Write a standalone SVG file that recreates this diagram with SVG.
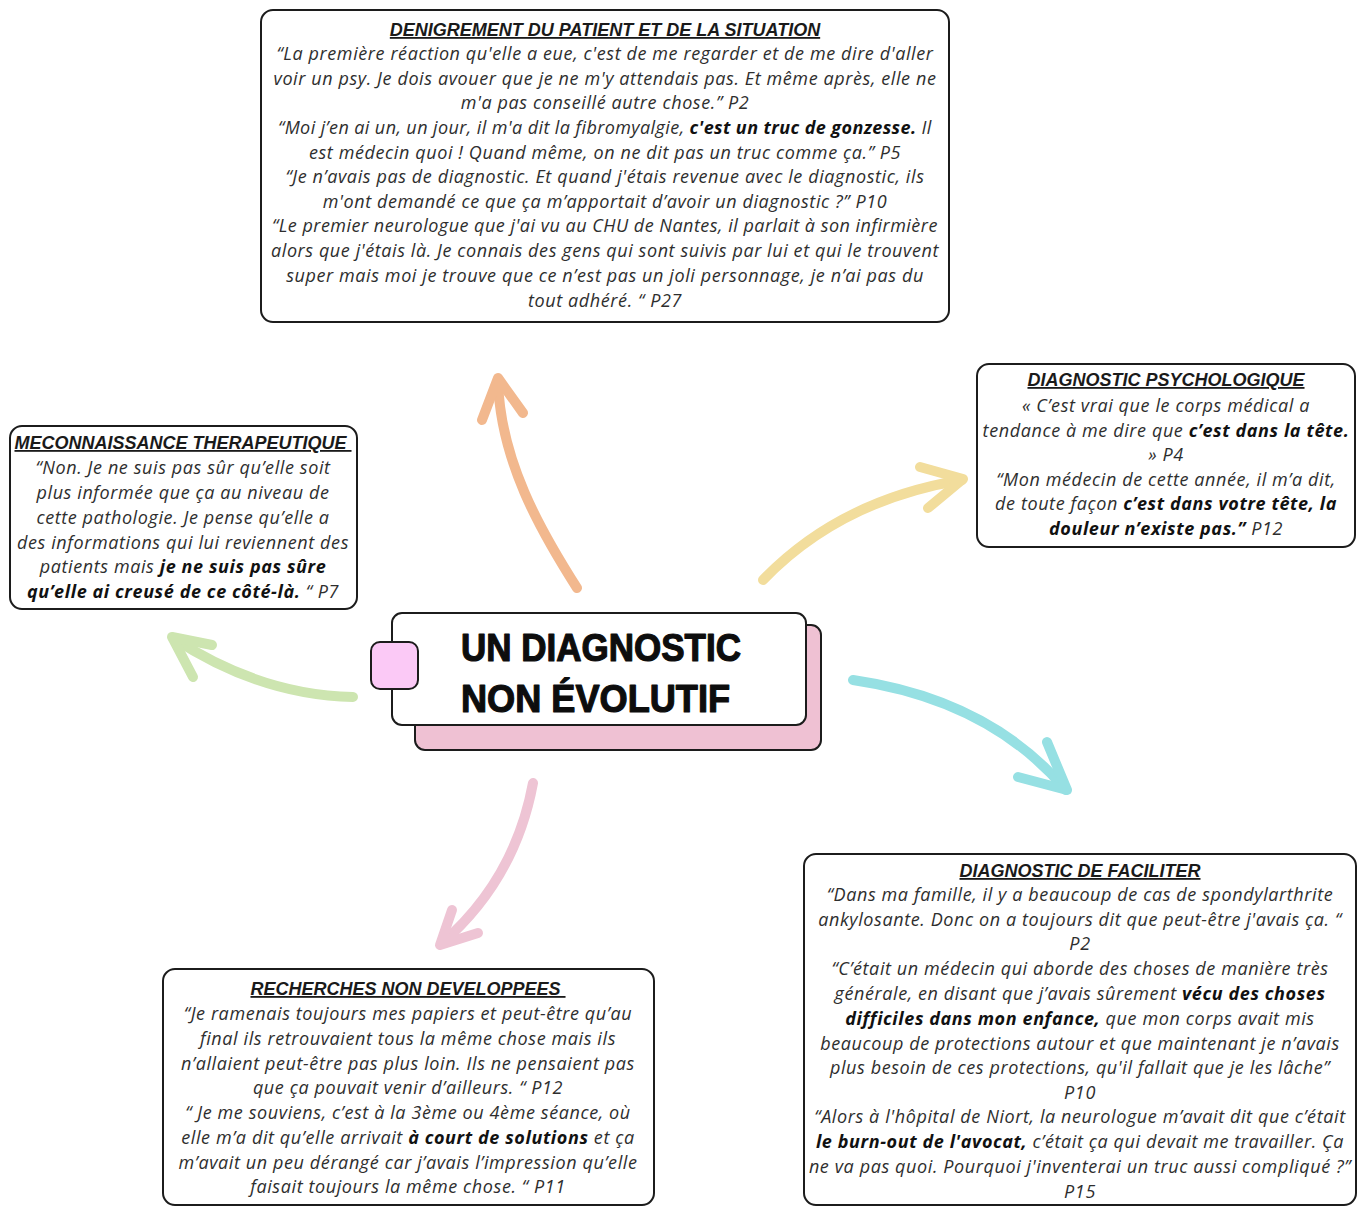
<svg xmlns="http://www.w3.org/2000/svg" width="1361" height="1206" viewBox="0 0 1361 1206">
  <style>
    .box { fill: #ffffff; stroke: #1c1c1c; stroke-width: 2; }
    .q { font-family: "Open Sans", "Liberation Sans", sans-serif; font-style: italic; font-size: 18px; letter-spacing: 0.6px; fill: #2e2e2e; text-anchor: middle; }
    .b { font-weight: bold; fill: #111111; }
    .t { font-family: "Liberation Sans", Arial, sans-serif; font-weight: bold; font-style: italic; font-size: 18px; fill: #1a1a1a; text-anchor: middle; text-decoration: underline; }
    .arrow { fill: none; stroke-width: 10; stroke-linecap: round; stroke-linejoin: round; }
    .head { font-family: "Liberation Sans", Arial, sans-serif; font-weight: bold; font-size: 38px; fill: #0d0d0d; stroke: #0d0d0d; stroke-width: 1.2; stroke-linejoin: round; }
  </style>

  <!-- connectors -->
  <g id="connectors">
    <path class="arrow" stroke="#f2b88e" d="M577,588 C540,530 500,460 498,380"/>
    <path class="arrow" stroke="#f2b88e" d="M482,420 L498,378 L523,413"/>
    <path class="arrow" stroke="#f2dd9c" d="M763,580 Q840,500 962,480"/>
    <path class="arrow" stroke="#f2dd9c" d="M920,467 L963,479 L928,508"/>
    <path class="arrow" stroke="#96e0e3" d="M853,680 Q990,700 1066,790"/>
    <path class="arrow" stroke="#96e0e3" d="M1047,742 L1067,790 L1018,777"/>
    <path class="arrow" stroke="#cde5b0" d="M353,697 Q260,695 173,638"/>
    <path class="arrow" stroke="#cde5b0" d="M212,645 L172,637 L193,677"/>
    <path class="arrow" stroke="#eec4d4" d="M533,783 Q515,880 441,944"/>
    <path class="arrow" stroke="#eec4d4" d="M452,910 L440,945 L478,933"/>
  </g>

  <!-- central topic -->
  <g id="center">
    <rect x="415" y="625" width="406" height="125" rx="10" fill="#efc1d3" stroke="#1c1c1c" stroke-width="2"/>
    <rect x="392" y="613" width="414" height="112" rx="10" class="box"/>
    <rect x="371" y="642" width="47" height="47" rx="9" fill="#fbc9f6" stroke="#1c1c1c" stroke-width="2"/>
    <text class="head" x="461" y="661" textLength="280" lengthAdjust="spacingAndGlyphs">UN DIAGNOSTIC</text>
    <text class="head" x="461" y="712" textLength="269" lengthAdjust="spacingAndGlyphs">NON ÉVOLUTIF</text>
  </g>

  <!-- top: dénigrement -->
  <g id="denigrement">
    <rect x="261" y="10" width="688" height="312" rx="12" class="box"/>
    <text class="t" x="605" y="36">DENIGREMENT DU PATIENT ET DE LA SITUATION</text>
    <text class="q" x="605" y="60">“La première réaction qu'elle a eue, c'est de me regarder et de me dire d'aller</text>
    <text class="q" x="605" y="85">voir un psy. Je dois avouer que je ne m'y attendais pas. Et même après, elle ne</text>
    <text class="q" x="605" y="109">m'a pas conseillé autre chose.” P2</text>
    <text class="q" x="605" y="134" textLength="654">“Moi j’en ai un, un jour, il m'a dit la fibromyalgie, <tspan class="b">c'est un truc de gonzesse.</tspan> Il</text>
    <text class="q" x="605" y="159">est médecin quoi ! Quand même, on ne dit pas un truc comme ça.” P5</text>
    <text class="q" x="605" y="183">“Je n’avais pas de diagnostic. Et quand j'étais revenue avec le diagnostic, ils</text>
    <text class="q" x="605" y="208">m'ont demandé ce que ça m’apportait d’avoir un diagnostic ?” P10</text>
    <text class="q" x="605" y="232" textLength="666">“Le premier neurologue que j'ai vu au CHU de Nantes, il parlait à son infirmière</text>
    <text class="q" x="605" y="257" textLength="668">alors que j'étais là. Je connais des gens qui sont suivis par lui et qui le trouvent</text>
    <text class="q" x="605" y="282">super mais moi je trouve que ce n’est pas un joli personnage, je n’ai pas du</text>
    <text class="q" x="605" y="307">tout adhéré. “ P27</text>
  </g>

  <!-- right: diagnostic psychologique -->
  <g id="psychologique">
    <rect x="977" y="364" width="378" height="183" rx="12" class="box"/>
    <text class="t" x="1166" y="386">DIAGNOSTIC PSYCHOLOGIQUE</text>
    <text class="q" x="1166" y="412">« C’est vrai que le corps médical a</text>
    <text class="q" x="1166" y="437">tendance à me dire que <tspan class="b">c’est dans la tête.</tspan></text>
    <text class="q" x="1166" y="461">» P4</text>
    <text class="q" x="1166" y="486">“Mon médecin de cette année, il m’a dit,</text>
    <text class="q" x="1166" y="510">de toute façon <tspan class="b">c’est dans votre tête, la</tspan></text>
    <text class="q" x="1166" y="535"><tspan class="b">douleur n’existe pas.”</tspan> P12</text>
  </g>

  <!-- left: méconnaissance thérapeutique -->
  <g id="meconnaissance">
    <rect x="10" y="426" width="347" height="183" rx="12" class="box"/>
    <text class="t" x="183" y="449" xml:space="preserve">MECONNAISSANCE THERAPEUTIQUE </text>
    <text class="q" x="183" y="474">“Non. Je ne suis pas sûr qu’elle soit</text>
    <text class="q" x="183" y="499">plus informée que ça au niveau de</text>
    <text class="q" x="183" y="524">cette pathologie. Je pense qu’elle a</text>
    <text class="q" x="183" y="549">des informations qui lui reviennent des</text>
    <text class="q" x="183" y="573">patients mais <tspan class="b">je ne suis pas sûre</tspan></text>
    <text class="q" x="183" y="598"><tspan class="b">qu’elle ai creusé de ce côté-là.</tspan> “ P7</text>
  </g>

  <!-- bottom left: recherches non développées -->
  <g id="recherches">
    <rect x="163" y="969" width="491" height="236" rx="12" class="box"/>
    <text class="t" x="408" y="995" xml:space="preserve">RECHERCHES NON DEVELOPPEES </text>
    <text class="q" x="408" y="1020">“Je ramenais toujours mes papiers et peut-être qu’au</text>
    <text class="q" x="408" y="1045">final ils retrouvaient tous la même chose mais ils</text>
    <text class="q" x="408" y="1070">n’allaient peut-être pas plus loin. Ils ne pensaient pas</text>
    <text class="q" x="408" y="1094">que ça pouvait venir d’ailleurs. “ P12</text>
    <text class="q" x="408" y="1119">“ Je me souviens, c’est à la 3ème ou 4ème séance, où</text>
    <text class="q" x="408" y="1144">elle m’a dit qu’elle arrivait <tspan class="b">à court de solutions</tspan> et ça</text>
    <text class="q" x="408" y="1169">m’avait un peu dérangé car j’avais l’impression qu’elle</text>
    <text class="q" x="408" y="1193">faisait toujours la même chose. “ P11</text>
  </g>

  <!-- bottom right: diagnostic de faciliter -->
  <g id="faciliter">
    <rect x="804" y="854" width="552" height="351" rx="12" class="box"/>
    <text class="t" x="1080" y="877">DIAGNOSTIC DE FACILITER</text>
    <text class="q" x="1080" y="901">“Dans ma famille, il y a beaucoup de cas de spondylarthrite</text>
    <text class="q" x="1080" y="926">ankylosante. Donc on a toujours dit que peut-être j'avais ça. “</text>
    <text class="q" x="1080" y="950">P2</text>
    <text class="q" x="1080" y="975">“C’était un médecin qui aborde des choses de manière très</text>
    <text class="q" x="1080" y="1000">générale, en disant que j’avais sûrement <tspan class="b">vécu des choses</tspan></text>
    <text class="q" x="1080" y="1025"><tspan class="b">difficiles dans mon enfance,</tspan> que mon corps avait mis</text>
    <text class="q" x="1080" y="1050">beaucoup de protections autour et que maintenant je n’avais</text>
    <text class="q" x="1080" y="1074">plus besoin de ces protections, qu'il fallait que je les lâche”</text>
    <text class="q" x="1080" y="1099">P10</text>
    <text class="q" x="1080" y="1123">“Alors à l'hôpital de Niort, la neurologue m’avait dit que c’était</text>
    <text class="q" x="1080" y="1148"><tspan class="b">le burn-out de l'avocat,</tspan> c’était ça qui devait me travailler. Ça</text>
    <text class="q" x="1080" y="1173">ne va pas quoi. Pourquoi j'inventerai un truc aussi compliqué ?”</text>
    <text class="q" x="1080" y="1198">P15</text>
  </g>
</svg>
